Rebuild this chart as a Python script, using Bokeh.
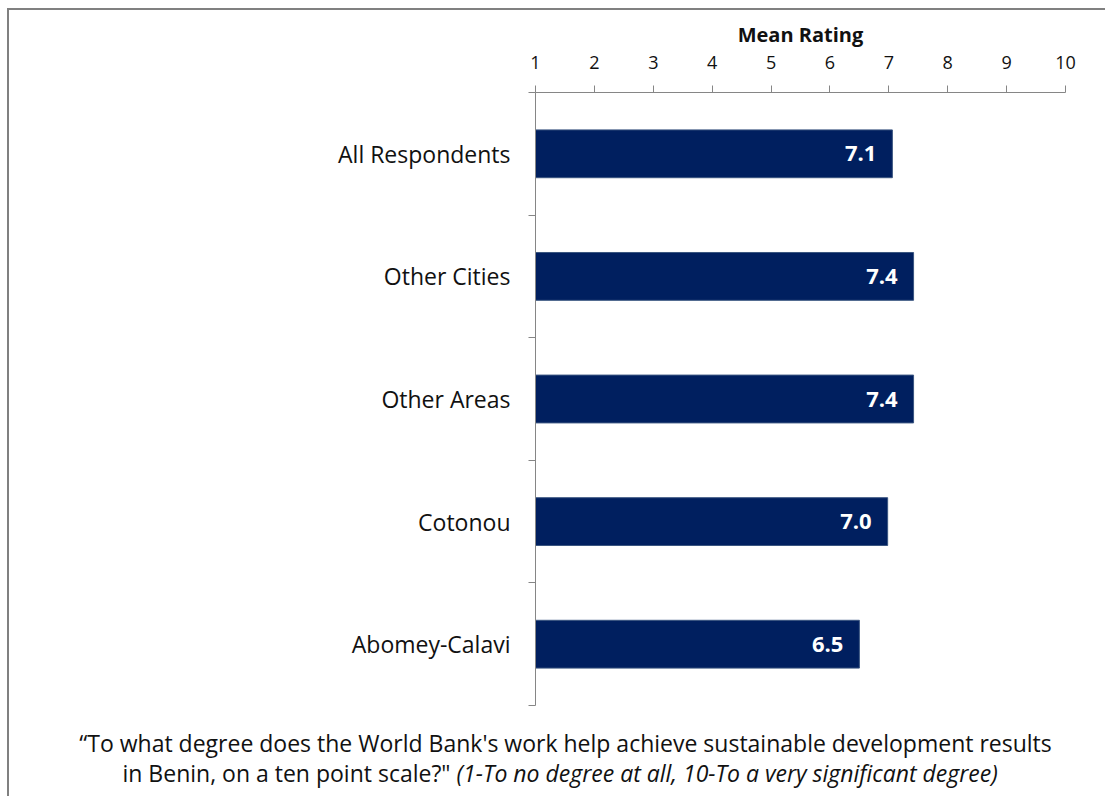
from bokeh.plotting import figure
from bokeh.models import Range1d, FixedTicker, ColumnDataSource
from bokeh.core.properties import value
from bokeh.embed import file_html
from bokeh.resources import INLINE

categories = ["All Respondents", "Other Cities", "Other Areas", "Cotonou", "Abomey-Calavi"]
ratings = [7.06, 7.42, 7.42, 6.98, 6.50]
x_ticks = [1, 2, 3, 4, 5, 6, 7, 8, 9, 10]
axis_title = "Mean Rating"
question_line1 = "\u201cTo what degree does the World Bank's work help achieve sustainable development results"
question_line2a = "in Benin, on a ten point scale?\""
question_line2b = "(1-To no degree at all, 10-To a very significant degree)"

n = len(categories)
ys = [n - i - 0.5 for i in range(n)]
labels = [f"{v:.1f}" for v in ratings]

FONT = "Open Sans"
AXIS_COLOR = "#868686"
BAR_COLOR = "#001F5F"
TEXT_COLOR = "#111111"

# canvas geometry (pixels)
W, H = 1098, 788
AX_LEFT, AX_RIGHT = 526, 1056      # where x=1 and x=10 sit
AX_TOP, AX_BOTTOM = 82, 695        # where y=n and y=0 sit
px_x = (AX_RIGHT - AX_LEFT) / (x_ticks[-1] - x_ticks[0])
px_y = (AX_BOTTOM - AX_TOP) / n

def to_x(cx):
    return x_ticks[0] + (cx - AX_LEFT) / px_x

def to_y(cy):
    return (AX_BOTTOM - cy) / px_y

src = ColumnDataSource(dict(y=ys, right=ratings, label=labels, cat=categories))

p = figure(width=W, height=H, output_backend="svg", toolbar_location=None,
           x_range=Range1d(to_x(0), to_x(W)), y_range=Range1d(to_y(H), to_y(0)),
           x_axis_location="above", min_border=0)
p.styles = {"margin-left": "7px", "margin-top": "8px",
            "border-left": "2px solid #808080", "border-top": "2px solid #808080"}
p.outline_line_color = None
p.xgrid.visible = False
p.ygrid.visible = False
p.background_fill_color = "white"
p.border_fill_color = "white"

xa = p.xaxis[0]
xa.fixed_location = n
xa.ticker = FixedTicker(ticks=x_ticks)
xa.bounds = (x_ticks[0], x_ticks[-1])
xa.axis_line_color = AXIS_COLOR
xa.major_tick_line_color = AXIS_COLOR
xa.major_tick_out = 7
xa.major_tick_in = 0
xa.minor_tick_line_color = None
xa.major_label_text_font = FONT
xa.major_label_text_font_size = "18px"
xa.major_label_text_color = TEXT_COLOR
xa.major_label_standoff = 17

ya = p.yaxis[0]
ya.fixed_location = x_ticks[0]
ya.bounds = (0, n)
ya.ticker = FixedTicker(ticks=ys, minor_ticks=list(range(n + 1)))
ya.major_label_overrides = {y: c for y, c in zip(ys, categories)}
ya.axis_line_color = AXIS_COLOR
ya.major_tick_line_color = None
ya.major_tick_out = 0
ya.major_tick_in = 0
ya.minor_tick_line_color = AXIS_COLOR
ya.minor_tick_out = 7
ya.minor_tick_in = 0
ya.major_label_text_font = FONT
ya.major_label_text_font_size = "23px"
ya.major_label_text_color = TEXT_COLOR
ya.major_label_standoff = 18

p.hbar(y="y", left=x_ticks[0], right="right", height=0.39, source=src,
       fill_color=BAR_COLOR, line_color="#3a5580", line_width=1)
p.text(x="right", y="y", text="label", source=src, x_offset=-16,
       text_align="right", text_baseline="middle", text_color="white",
       text_font=value(FONT), text_font_style="bold", text_font_size="22px")

# axis title centred over the value axis
p.text(x=[(x_ticks[0] + x_ticks[-1]) / 2], y=[to_y(24)], text=[axis_title],
       text_align="center", text_baseline="middle", text_color=TEXT_COLOR,
       text_font=value(FONT), text_font_style="bold", text_font_size="20px")

common = dict(text_baseline="middle", text_color=TEXT_COLOR,
              text_font=value(FONT), text_font_size="23px")
p.text(x=[to_x(556)], y=[to_y(732)], text=[question_line1], text_align="center", **common)
p.text(x=[to_x(441)], y=[to_y(762)], text=[question_line2a], text_align="right", **common)
p.text(x=[to_x(447)], y=[to_y(762)], text=[question_line2b], text_align="left",
       text_font_style="italic", **common)

open("out.html", "w").write(file_html(p, INLINE))
